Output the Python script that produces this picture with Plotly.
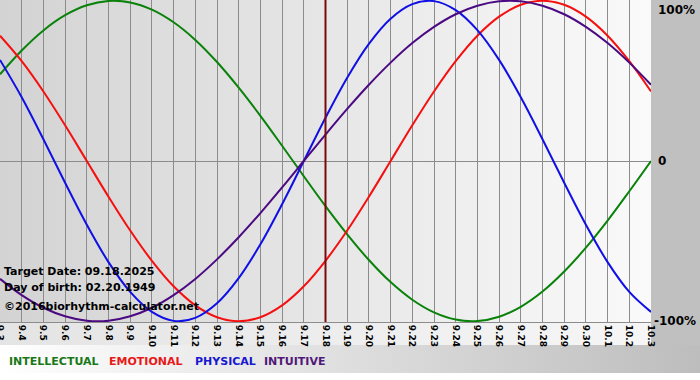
import plotly.graph_objects as go

# ---- data ----
days = ["9.3", "9.4", "9.5", "9.6", "9.7", "9.8", "9.9", "9.10", "9.11", "9.12",
        "9.13", "9.14", "9.15", "9.16", "9.17", "9.18", "9.19", "9.20", "9.21", "9.22",
        "9.23", "9.24", "9.25", "9.26", "9.27", "9.28", "9.29", "9.30", "10.1", "10.2", "10.3"]

intellectual = [0.541, 0.690, 0.815, 0.910, 0.972, 0.999, 0.990, 0.945, 0.866, 0.756,
                0.618, 0.458, 0.282, 0.095, -0.095, -0.282, -0.458, -0.618, -0.756, -0.866,
                -0.945, -0.990, -0.999, -0.972, -0.910, -0.815, -0.690, -0.541, -0.372, -0.189, 0.0]
emotional = [0.782, 0.623, 0.434, 0.223, 0.0, -0.223, -0.434, -0.623, -0.782, -0.901,
             -0.975, -1.0, -0.975, -0.901, -0.782, -0.623, -0.434, -0.223, 0.0, 0.223,
             0.434, 0.623, 0.782, 0.901, 0.975, 1.0, 0.975, 0.901, 0.782, 0.623, 0.434]
physical = [0.631, 0.398, 0.136, -0.136, -0.398, -0.631, -0.817, -0.942, -0.998, -0.979,
            -0.888, -0.731, -0.520, -0.270, 0.0, 0.270, 0.520, 0.731, 0.888, 0.979,
            0.998, 0.942, 0.817, 0.631, 0.398, 0.136, -0.136, -0.398, -0.631, -0.817, -0.942]
intuitive = [-0.736, -0.837, -0.916, -0.969, -0.997, -0.997, -0.969, -0.916, -0.837, -0.736,
             -0.614, -0.476, -0.325, -0.165, 0.0, 0.165, 0.325, 0.476, 0.614, 0.736,
             0.837, 0.916, 0.969, 0.997, 0.997, 0.969, 0.916, 0.837, 0.736, 0.614, 0.476]

series_names = ["INTELLECTUAL", "EMOTIONAL", "PHYSICAL", "INTUITIVE"]
series_colors = ["#0a820a", "#f51010", "#1010e6", "#4b0a82"]
legend_colors = ["#187818", "#e81818", "#1818d0", "#501878"]

target_day = "9.18"
info_lines = ["Target Date: 09.18.2025", "Day of birth: 02.20.1949", "\u00a92016biorhythm-calculator.net"]
y_labels = ["100%", "0", "-100%"]

W, H = 700, 380
PLOT_R, PLOT_B = 651, 322
FONT = "DejaVu Sans, Verdana, sans-serif"

fig = go.Figure()

# ---- background decorations (pixel-space helper axes) ----
def grad_rect(x0, y0, x1, y1, c0, c1):
    fig.add_trace(go.Scatter(
        x=[x0, x1, x1, x0, x0], y=[y0, y0, y1, y1, y0], mode="lines",
        line=dict(width=0), fill="toself",
        fillgradient=dict(type="horizontal", colorscale=[[0, c0], [1, c1]]),
        hoverinfo="skip", showlegend=False, xaxis="x", yaxis="y"))

grad_rect(0, 0, PLOT_R, PLOT_B, "#d3d3d3", "#fafafa")
grad_rect(0, PLOT_B, PLOT_R, 345, "#e4e4e4", "#f6f6f6")
grad_rect(PLOT_R, 0, W, 345, "#c0c0c0", "#c0c0c0")
grad_rect(0, 345, W, 373, "#ffffff", "#bdbdbd")

# ---- main biorhythm curves ----
for name, vals, col in zip(series_names, [intellectual, emotional, physical, intuitive], series_colors):
    fig.add_trace(go.Scatter(
        x=days, y=vals, mode="lines", name=name,
        line=dict(color=col, width=2, shape="spline", smoothing=1),
        hoverinfo="skip", showlegend=False, xaxis="x2", yaxis="y2"))

target_idx = days.index(target_day)
fig.add_shape(type="line", xref="x2", yref="y2 domain", x0=target_idx, x1=target_idx,
              y0=0, y1=1, line=dict(color="#7a0a0a", width=2))

annotations = []
for i, t in enumerate(info_lines):
    annotations.append(dict(text=t, xref="x", yref="y", x=2, y=[271.5, 287, 306.5][i],
                            xanchor="left", yanchor="middle", showarrow=False,
                            font=dict(family=FONT, size=11, color="#000000", weight="bold")))
for t, yy, xx in zip(y_labels, [1, 0, -1], [656, 656, 652]):
    annotations.append(dict(text=t, xref="x", yref="y2", x=xx, y=yy,
                            xanchor="left", yanchor="top" if yy == 1 else "middle",
                            yshift=0, showarrow=False,
                            font=dict(family=FONT, size=12, color="#000000", weight="bold")))
for t, col, xx in zip(series_names, legend_colors, [7, 107, 193, 262]):
    annotations.append(dict(text=t, xref="x", yref="y", x=xx, y=361,
                            xanchor="left", yanchor="middle", showarrow=False,
                            font=dict(family=FONT, size=11, color=col, weight="bold")))

fig.update_layout(
    width=W, height=H, margin=dict(l=0, r=0, t=0, b=0, autoexpand=False),
    paper_bgcolor="#ffffff", plot_bgcolor="rgba(0,0,0,0)", showlegend=False,
    hovermode=False,
    xaxis=dict(domain=[0, 1], range=[0, W], visible=False, fixedrange=True, automargin=False),
    yaxis=dict(domain=[0, 1], range=[H, 0], visible=False, fixedrange=True, automargin=False),
    xaxis2=dict(domain=[0, PLOT_R / W], anchor="y2", type="category", range=[0, len(days) - 1],
                tickangle=90, tickfont=dict(family=FONT, size=9, color="#000000", weight="bold"),
                showgrid=True, gridcolor="#8c8c8c", gridwidth=1, ticks="", automargin=False,
                showline=True, linecolor="#8c8c8c", linewidth=1, zeroline=False, fixedrange=True),
    yaxis2=dict(domain=[1 - PLOT_B / H, 1], anchor="x2", range=[-1.005, 1.005],
                tickvals=[-1, 0, 1], showticklabels=False, showgrid=True, automargin=False,
                gridcolor="#8c8c8c", gridwidth=1, zeroline=False, ticks="", fixedrange=True),
    annotations=annotations,
)

fig.write_html("out.html", config={"displayModeBar": False, "staticPlot": True},
               post_script="document.body.style.margin='0';document.body.style.padding='0';")
